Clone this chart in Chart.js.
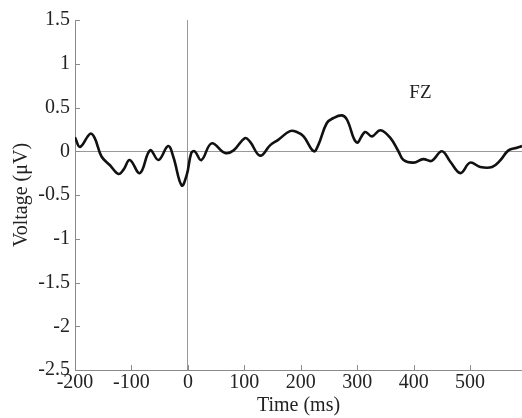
<!DOCTYPE html>
<html>
<head>
<meta charset="utf-8">
<script src="https://cdn.jsdelivr.net/npm/chart.js@4"></script>
<style>
  body { margin: 0; background: #fff; }
  #wrap { width: 522px; height: 418px; }
</style>
</head>
<body>
<div id="wrap"><canvas id="erp"></canvas></div>
<script>
// ERP waveform, channel FZ
const times = [-200, -191, -173, -165, -153, -138, -123, -114, -103, -85, -67, -52, -35, -26, -11, -2, 6, 12, 24, 42,
  66, 81, 101, 110, 128, 146, 160, 181, 193, 205, 223, 231, 246, 258, 273, 282, 299, 314, 326, 341,
  359, 373, 382, 400, 417, 432, 450, 465, 483, 500, 518, 539, 554, 568, 583, 592];
const voltage = [0.16, 0.05, 0.2, 0.15, -0.06, -0.16, -0.26, -0.21, -0.10, -0.25, 0.01, -0.1, 0.06, -0.06, -0.39, -0.27, -0.02, 0.0, -0.1, 0.09,
  -0.02, 0.01, 0.15, 0.11, -0.05, 0.07, 0.13, 0.23, 0.22, 0.17, 0.0, 0.07, 0.32, 0.38, 0.41, 0.36, 0.10, 0.22, 0.17, 0.24,
  0.15, 0.0, -0.10, -0.13, -0.09, -0.11, 0.0, -0.12, -0.25, -0.13, -0.18, -0.18, -0.10, 0.01, 0.04, 0.06];
const xTicks = [-200, -100, 0, 100, 200, 300, 400, 500];
const yTicks = [-2.5, -2, -1.5, -1, -0.5, 0, 0.5, 1, 1.5];
const channelLabel = 'FZ';

const serif = 'Liberation Serif, Times New Roman, serif';
const axisGray = '#8a8a8a';

// inward tick marks + channel label
const extras = {
  id: 'extras',
  afterDraw(chart) {
    const { ctx, scales: { x, y } } = chart;
    ctx.save();
    ctx.strokeStyle = axisGray;
    ctx.lineWidth = 1;
    ctx.beginPath();
    yTicks.forEach(v => {
      const py = Math.round(y.getPixelForValue(v)) + 0.5;
      ctx.moveTo(x.left, py);
      ctx.lineTo(x.left + 5, py);
    });
    xTicks.forEach(v => {
      const px = Math.round(x.getPixelForValue(v)) + 0.5;
      ctx.moveTo(px, y.bottom);
      ctx.lineTo(px, y.bottom - 5);
    });
    ctx.stroke();
    ctx.fillStyle = '#222';
    ctx.font = '19px ' + serif;
    ctx.textAlign = 'center';
    ctx.textBaseline = 'middle';
    ctx.fillText(channelLabel, x.getPixelForValue(412), y.getPixelForValue(0.67));
    ctx.restore();
  }
};

new Chart(document.getElementById('erp'), {
  type: 'scatter',
  data: {
    datasets: [{
      data: times.map((t, i) => ({ x: t, y: voltage[i] })),
      showLine: true,
      borderColor: '#111',
      borderWidth: 2.6,
      pointRadius: 0,
      tension: 0.4,
      fill: false
    }]
  },
  options: {
    responsive: true,
    maintainAspectRatio: false,
    animation: false,
    layout: { padding: { top: 20, right: 0, left: 0, bottom: 0 } },
    plugins: { legend: { display: false }, tooltip: { enabled: false } },
    scales: {
      x: {
        type: 'linear',
        min: -200,
        max: 592,
        afterBuildTicks: s => { s.ticks = xTicks.map(v => ({ value: v })); },
        afterFit: s => { s.height = 48; },
        border: { display: true, color: axisGray, width: 1 },
        grid: {
          drawTicks: false,
          color: c => (c.tick && c.tick.value === 0 ? '#999' : 'rgba(0,0,0,0)')
        },
        ticks: { color: '#222', font: { family: serif, size: 20 }, padding: 1, maxRotation: 0, callback: v => String(v) },
        title: { display: true, text: 'Time (ms)', color: '#222', font: { family: serif, size: 20 }, padding: { top: -4, bottom: 0 } }
      },
      y: {
        min: -2.5,
        max: 1.5,
        afterBuildTicks: s => { s.ticks = yTicks.map(v => ({ value: v })); },
        afterFit: s => { s.width = 75; },
        border: { display: true, color: axisGray, width: 1 },
        grid: {
          drawTicks: false,
          color: c => (c.tick && c.tick.value === 0 ? '#999' : 'rgba(0,0,0,0)')
        },
        ticks: { color: '#222', font: { family: serif, size: 20 }, padding: 5, callback: v => String(v) },
        title: { display: true, text: 'Voltage (μV)', color: '#222', font: { family: serif, size: 20 }, padding: { top: 10, bottom: 2 } }
      }
    }
  },
  plugins: [extras]
});
</script>
</body>
</html>
